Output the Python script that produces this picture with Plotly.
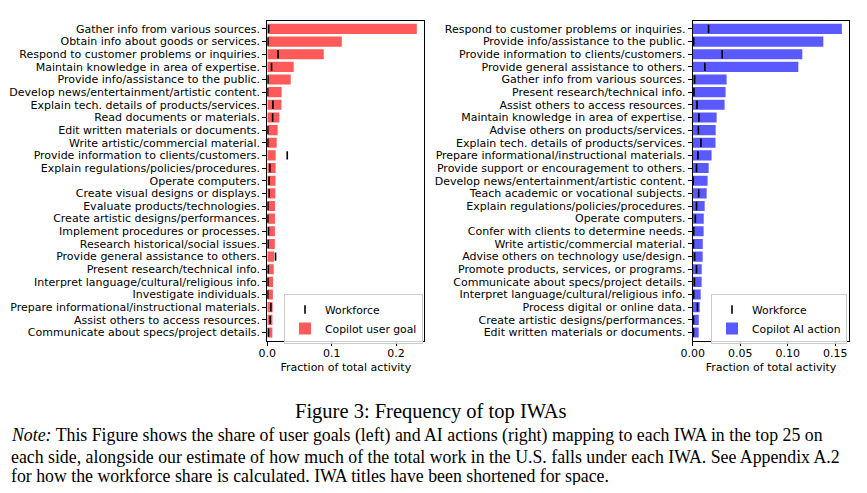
import plotly.graph_objects as go

left_labels = [
    "Gather info from various sources.",
    "Obtain info about goods or services.",
    "Respond to customer problems or inquiries.",
    "Maintain knowledge in area of expertise.",
    "Provide info/assistance to the public.",
    "Develop news/entertainment/artistic content.",
    "Explain tech. details of products/services.",
    "Read documents or materials.",
    "Edit written materials or documents.",
    "Write artistic/commercial material.",
    "Provide information to clients/customers.",
    "Explain regulations/policies/procedures.",
    "Operate computers.",
    "Create visual designs or displays.",
    "Evaluate products/technologies.",
    "Create artistic designs/performances.",
    "Implement procedures or processes.",
    "Research historical/social issues.",
    "Provide general assistance to others.",
    "Present research/technical info.",
    "Interpret language/cultural/religious info.",
    "Investigate individuals.",
    "Prepare informational/instructional materials.",
    "Assist others to access resources.",
    "Communicate about specs/project details.",
]
left_user_goal = [0.2323, 0.1157, 0.0877, 0.0410, 0.0364, 0.0222, 0.0220, 0.0187,
                  0.0161, 0.0146, 0.0130, 0.0129, 0.0127, 0.0125, 0.0120, 0.0119,
                  0.0118, 0.0117, 0.0106, 0.0100, 0.0090, 0.0087, 0.0083, 0.0080, 0.0078]
left_workforce = [0.0020, 0.0010, 0.0167, 0.0066, 0.0010, 0.0005, 0.0087, 0.0083,
                  0.0008, 0.0008, 0.0310, 0.0040, 0.0028, 0.0030, 0.0010, 0.0008,
                  0.0018, 0.0012, 0.0128, 0.0013, 0.0010, 0.0008, 0.0055, 0.0045, 0.0018]

right_labels = [
    "Respond to customer problems or inquiries.",
    "Provide info/assistance to the public.",
    "Provide information to clients/customers.",
    "Provide general assistance to others.",
    "Gather info from various sources.",
    "Present research/technical info.",
    "Assist others to access resources.",
    "Maintain knowledge in area of expertise.",
    "Advise others on products/services.",
    "Explain tech. details of products/services.",
    "Prepare informational/instructional materials.",
    "Provide support or encouragement to others.",
    "Develop news/entertainment/artistic content.",
    "Teach academic or vocational subjects.",
    "Explain regulations/policies/procedures.",
    "Operate computers.",
    "Confer with clients to determine needs.",
    "Write artistic/commercial material.",
    "Advise others on technology use/design.",
    "Promote products, services, or programs.",
    "Communicate about specs/project details.",
    "Interpret language/cultural/religious info.",
    "Process digital or online data.",
    "Create artistic designs/performances.",
    "Edit written materials or documents.",
]
right_ai_action = [0.1570, 0.1375, 0.1154, 0.1112, 0.0357, 0.0346, 0.0336, 0.0252,
                   0.0242, 0.0240, 0.0199, 0.0168, 0.0157, 0.0147, 0.0126, 0.0116,
                   0.0115, 0.0106, 0.0105, 0.0095, 0.0094, 0.0084, 0.0074, 0.0064, 0.0063]
right_workforce = [0.0167, 0.0010, 0.0310, 0.0128, 0.0020, 0.0013, 0.0045, 0.0066,
                   0.0060, 0.0087, 0.0055, 0.0040, 0.0005, 0.0063, 0.0040, 0.0028,
                   0.0010, 0.0008, 0.0020, 0.0040, 0.0018, 0.0010, 0.0050, 0.0008, 0.0008]

x_title = "Fraction of total activity"
left_ticks = [0, 0.1, 0.2]
left_ticktext = ["0.0", "0.1", "0.2"]
right_ticks = [0, 0.05, 0.10, 0.15]
right_ticktext = ["0.00", "0.05", "0.10", "0.15"]

caption = "Figure 3: Frequency of top IWAs"
note_lines = [
    "<i>Note:</i> This Figure shows the share of user goals (left) and AI actions (right) mapping to each IWA in the top 25 on",
    "each side, alongside our estimate of how much of the total work in the U.S. falls under each IWA. See Appendix A.2",
    "for how the workforce share is calculated. IWA titles have been shortened for space.",
]

RED = "#FF5959"
BLUE = "#5959FF"
SANS = "DejaVu Sans"
SERIF = "Liberation Serif"
FS = 11
LFS = 10.8

# page body has an 8px margin; figure is sized to fit inside the window
OFF = 8
W, H = 867 - 2 * OFF, 493 - 2 * OFF


def px(x):
    return (x - OFF) / W


def py(y):
    return 1 - (y - OFF) / H


fig = go.Figure()

fig.add_trace(go.Bar(x=left_user_goal, y=left_labels, orientation="h",
                     marker=dict(color=RED, line=dict(width=0)),
                     name="Copilot user goal", xaxis="x", yaxis="y", legend="legend"))
fig.add_trace(go.Scatter(x=left_workforce, y=left_labels, mode="markers",
                         marker=dict(symbol="line-ns", size=6, line=dict(width=1.6, color="black")),
                         name="Workforce", xaxis="x", yaxis="y", legend="legend"))
fig.add_trace(go.Bar(x=right_ai_action, y=right_labels, orientation="h",
                     marker=dict(color=BLUE, line=dict(width=0)),
                     name="Copilot AI action", xaxis="x2", yaxis="y2", legend="legend2"))
fig.add_trace(go.Scatter(x=right_workforce, y=right_labels, mode="markers",
                         marker=dict(symbol="line-ns", size=6, line=dict(width=1.6, color="black")),
                         name="Workforce", xaxis="x2", yaxis="y2", legend="legend2"))

ydom = [py(340.7), py(20.7)]
axis_common = dict(showline=True, linecolor="black", linewidth=1, mirror=True,
                   ticks="outside", ticklen=4, tickwidth=1, tickcolor="black",
                   showgrid=False, zeroline=False, automargin=False,
                   tickfont=dict(family=SANS, size=FS, color="black"))
xtitle = dict(text=x_title, font=dict(family=SANS, size=FS, color="black"), standoff=4)

n = len(left_labels)
fig.update_layout(
    width=W, height=H,
    margin=dict(l=0, r=0, t=0, b=0, autoexpand=False),
    paper_bgcolor="white", plot_bgcolor="white",
    bargap=0.2, showlegend=True,
    xaxis=dict(domain=[px(267.3), px(424.3)], range=[0, max(left_user_goal) * 1.05],
               tickvals=left_ticks, ticktext=left_ticktext, anchor="y",
               ticklabelstandoff=-2, title=xtitle, **axis_common),
    yaxis=dict(domain=ydom, type="category", categoryorder="array", categoryarray=left_labels,
               tickmode="array", tickvals=left_labels, ticktext=left_labels,
               range=[n - 1 + 0.65, -0.65], anchor="x", **axis_common),
    xaxis2=dict(domain=[px(692.7), px(849.3)], range=[0, max(right_ai_action) * 1.05],
                tickvals=right_ticks, ticktext=right_ticktext, anchor="y2",
                ticklabelstandoff=-2, title=xtitle, **axis_common),
    yaxis2=dict(domain=ydom, type="category", categoryorder="array", categoryarray=right_labels,
                tickmode="array", tickvals=right_labels, ticktext=right_labels,
                range=[n - 1 + 0.65, -0.65], anchor="x2", **axis_common),
    legend=dict(x=px(284), y=py(294), xanchor="left", yanchor="top",
                bgcolor="rgba(255,255,255,0.8)", bordercolor="#CCCCCC", borderwidth=1,
                font=dict(family=SANS, size=LFS, color="black"), traceorder="reversed"),
    legend2=dict(x=px(711), y=py(294), xanchor="left", yanchor="top",
                 bgcolor="rgba(255,255,255,0.8)", bordercolor="#CCCCCC", borderwidth=1,
                 font=dict(family=SANS, size=LFS, color="black"), traceorder="reversed"),
)

fig.add_annotation(text=caption, xref="paper", yref="paper", x=px(430.5), y=py(411.7),
                   xanchor="center", yanchor="middle", showarrow=False,
                   font=dict(family=SERIF, size=20.5, color="black"))
note_y = [435.7, 456.7, 476.0]
for line, yy in zip(note_lines, note_y):
    fig.add_annotation(text=line, xref="paper", yref="paper", x=px(8.5), y=py(yy),
                       xanchor="left", yanchor="middle", showarrow=False, align="left",
                       font=dict(family=SERIF, size=17.8, color="black"))

fig.write_html("out.html")
